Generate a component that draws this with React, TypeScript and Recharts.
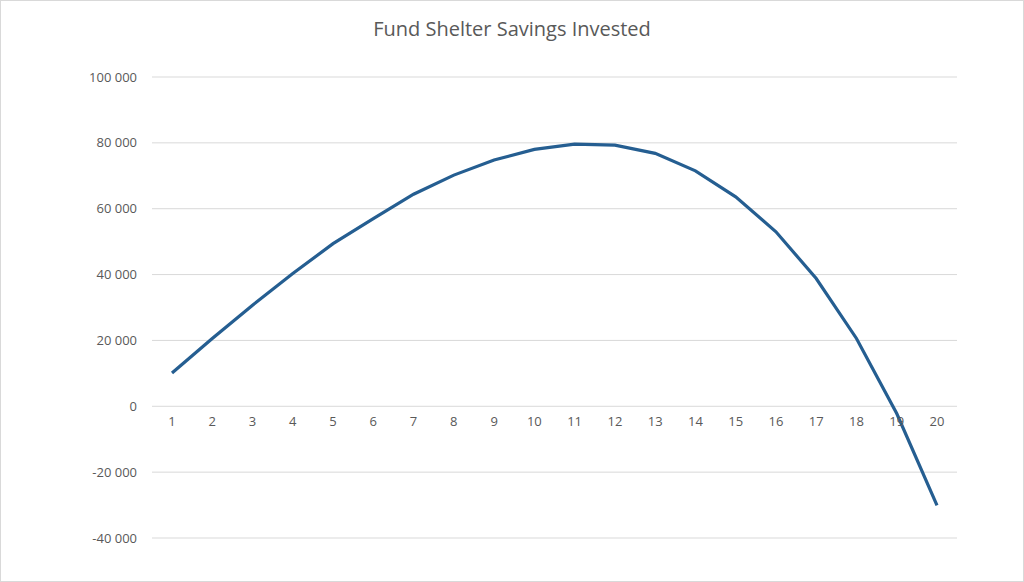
import React from "react";
import { LineChart, Line, XAxis, YAxis, CartesianGrid, ReferenceDot } from "recharts";

const years: string[] = ["1","2","3","4","5","6","7","8","9","10","11","12","13","14","15","16","17","18","19","20"];
const savings: number[] = [10100, 20600, 30700, 40300, 49400, 57000, 64400, 70200, 74800, 78000, 79600, 79300, 76800, 71500, 63600, 53000, 38800, 20600, -2200, -30100];
const yTicks: number[] = [-40000, -20000, 0, 20000, 40000, 60000, 80000, 100000];
const title = "Fund Shelter Savings Invested";

const data = years.map((y, i) => ({ year: y, value: savings[i] }));

const fmt = (v: number) => {
  const s = Math.abs(v).toString().replace(/\B(?=(\d{3})+(?!\d))/g, " ");
  return (v < 0 ? "-" : "") + s;
};

const FONT = "'Open Sans', 'Noto Sans', sans-serif";

export default function App() {
  return (
    <div
      style={{
        position: "absolute",
        left: 0,
        top: 0,
        width: 1024,
        height: 582,
        boxSizing: "border-box",
        border: "1px solid #d9d9d9",
        background: "#fff",
        fontFamily: FONT,
      }}
    >
      <div
        style={{
          position: "absolute",
          top: 14,
          left: 0,
          width: 1022,
          textAlign: "center",
          fontSize: 20,
          color: "#595959",
          fontFamily: FONT,
        }}
      >
        {title}
      </div>
      <div style={{ position: "absolute", left: -1, top: -1 }}>
        <LineChart width={1024} height={582} data={data} margin={{ top: 77, right: 67, bottom: 44, left: 0 }}>
          <CartesianGrid vertical={false} stroke="#d9d9d9" strokeWidth={1} />
          <XAxis dataKey="year" type="category" scale="point" padding={{ left: 20, right: 20 }} hide />
          <YAxis
            type="number"
            domain={[-40000, 100000]}
            ticks={yTicks}
            tickFormatter={fmt}
            width={152}
            axisLine={false}
            tickLine={false}
            tickSize={0}
            tickMargin={15}
            interval={0}
            tick={{ fill: "#595959", fontSize: 13, fontFamily: FONT }}
          />
          {years.map((y) => (
            <ReferenceDot
              key={y}
              x={y}
              y={0}
              r={0}
              stroke="none"
              fill="none"
              label={{ value: y, position: "bottom", offset: 10, fill: "#595959", fontSize: 13, fontFamily: FONT }}
            />
          ))}
          <Line
            type="linear"
            dataKey="value"
            stroke="#255e91"
            strokeWidth={3.2}
            dot={false}
            activeDot={false}
            isAnimationActive={false}
          />
        </LineChart>
      </div>
    </div>
  );
}
